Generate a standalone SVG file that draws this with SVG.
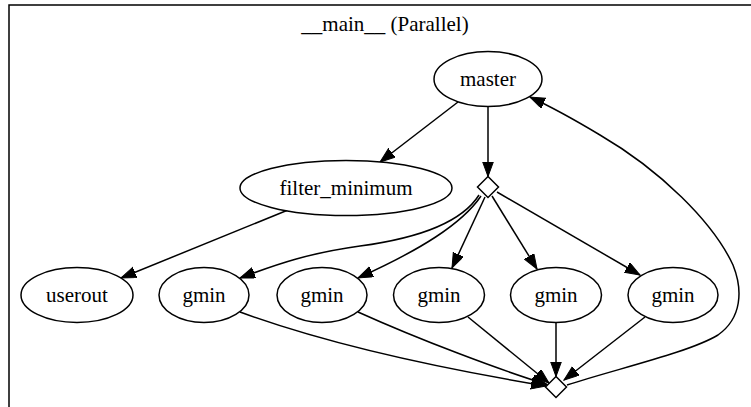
<svg xmlns="http://www.w3.org/2000/svg" width="751" height="407" viewBox="0 0 751 407">
<style>
  .n ellipse, .n polygon { fill: #fff; stroke: #000; stroke-width: 1.5; }
  text { font-family: 'Liberation Serif', 'Times New Roman', 'DejaVu Serif', serif; font-size: 21px; fill: #000; text-anchor: middle; }
  .e path { fill: none; stroke: #000; stroke-width: 1.5; marker-end: url(#arr); }
  .cluster { fill: none; stroke: #000; stroke-width: 1.5; }
</style>
<defs>
  <marker id="arr" markerUnits="userSpaceOnUse" markerWidth="16" markerHeight="12" refX="15" refY="5.5" orient="auto">
    <path d="M0,0 L15,5.5 L0,11 z" fill="#000" stroke="#000" stroke-width="1"/>
  </marker>
</defs>
<rect width="751" height="407" fill="#fff"/>
<g id="cluster_main">
  <rect class="cluster" x="9" y="5" width="800" height="450"/>
  <text x="385" y="31" font-family="Liberation Serif, serif">__main__ (Parallel)</text>
</g>
<g id="edges" class="e">
  <path d="M458,102 L380,162"/>
  <path d="M488,107 L488,176.5"/>
  <path d="M288,210 L121,278"/>
  <path d="M479,195 C462,222 420,238 360,246 C310,253 280,263 240,278"/>
  <path d="M481,196 C462,224 420,250 358,278"/>
  <path d="M485,197 L452,268"/>
  <path d="M492,196 L537,269"/>
  <path d="M497,192 L640,275"/>
  <path d="M240,312 C330,345 450,370 546,386"/>
  <path d="M358,312 C420,340 500,370 547,384.5"/>
  <path d="M468,317 L549,383"/>
  <path d="M556,323 L556,376.5"/>
  <path d="M645,317 L564,380"/>
  <path d="M567,385 C620,368 690,352 718,335 C742,318 743,290 733,265 C713,222 660,170 600,135 C580,123 558,110 530,97"/>
</g>
<g id="master" class="n"><ellipse cx="488" cy="79" rx="54" ry="27.5"/><text x="488" y="86">master</text></g>
<g id="filter_minimum" class="n"><ellipse cx="346" cy="188" rx="106" ry="27.5"/><text x="346" y="195">filter_minimum</text></g>
<g id="split" class="n"><polygon points="488,176.5 498.5,187 488,197.5 477.5,187"/></g>
<g id="userout" class="n"><ellipse cx="77" cy="295" rx="56" ry="27.5"/><text x="77" y="302">userout</text></g>
<g id="gmin1" class="n"><ellipse cx="204" cy="295" rx="45" ry="27.5"/><text x="204" y="302">gmin</text></g>
<g id="gmin2" class="n"><ellipse cx="322" cy="295" rx="45" ry="27.5"/><text x="322" y="302">gmin</text></g>
<g id="gmin3" class="n"><ellipse cx="439" cy="295" rx="45.5" ry="27.5"/><text x="439" y="302">gmin</text></g>
<g id="gmin4" class="n"><ellipse cx="556" cy="295" rx="45.5" ry="27.5"/><text x="556" y="302">gmin</text></g>
<g id="gmin5" class="n"><ellipse cx="673" cy="295" rx="45" ry="27.5"/><text x="673" y="302">gmin</text></g>
<g id="join" class="n"><polygon points="556,376.5 566.5,387 556,397.5 545.5,387"/></g>
</svg>
